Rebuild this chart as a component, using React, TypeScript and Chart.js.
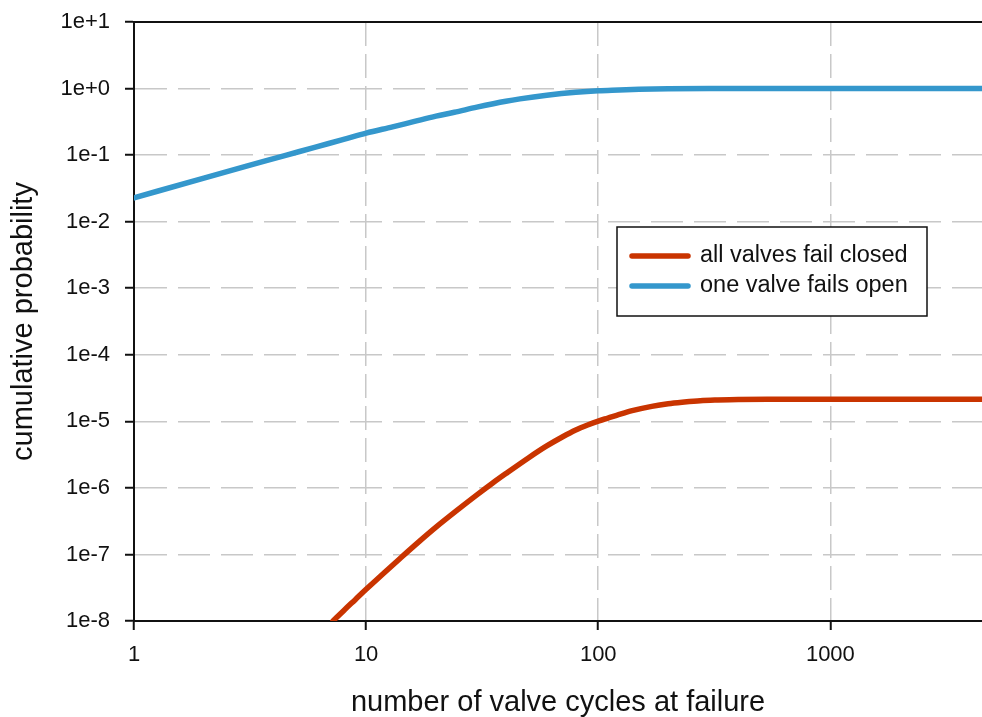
import React, { useEffect, useRef } from 'react';
import { Chart, registerables } from 'chart.js';

Chart.register(...registerables);

const FONT = '"Liberation Sans", Arial, Helvetica, sans-serif';

// Cumulative probability that one valve fails open, by number of cycles
const cyclesOpen = [1, 2, 3, 4.5, 6, 8, 10, 13, 16, 20, 24, 30, 40, 46, 60, 80, 100, 123, 150, 200, 300, 500, 1000, 4500];
const probOpen = [0.0228, 0.0452, 0.0671, 0.099, 0.131, 0.172, 0.214, 0.266, 0.318, 0.385, 0.44, 0.525, 0.645, 0.7, 0.794, 0.88, 0.927, 0.95, 0.973, 0.99, 0.998, 1.0, 1.0, 1.0];

// Cumulative probability that all valves fail closed, by number of cycles
const cyclesClosed = [7.2, 8, 9, 10, 12, 14, 17, 20, 25, 30, 35, 40, 50, 60, 70, 80, 90, 100, 110, 120, 140, 170, 200, 235, 275, 325, 400, 600, 1000, 4500];
const probClosed = [
  1.0e-8, 1.43e-8, 2.11e-8, 2.99e-8, 5.37e-8, 8.71e-8, 1.585e-7, 2.57e-7, 4.79e-7, 7.85e-7,
  1.175e-6, 1.64e-6, 2.82e-6, 4.27e-6, 5.82e-6, 7.41e-6, 8.81e-6, 1.01e-5, 1.12e-5, 1.23e-5,
  1.445e-5, 1.68e-5, 1.84e-5, 1.95e-5, 2.04e-5, 2.09e-5, 2.13e-5, 2.14e-5, 2.14e-5, 2.14e-5,
];

const seriesNames = ['all valves fail closed', 'one valve fails open'];
const seriesColors = ['#c93400', '#3497cc'];

const xTickValues = [1, 10, 100, 1000];
const xTickLabels = ['1', '10', '100', '1000'];
const yTickValues = [1e-8, 1e-7, 1e-6, 1e-5, 1e-4, 1e-3, 1e-2, 1e-1, 1, 10];
const yTickLabels = ['1e-8', '1e-7', '1e-6', '1e-5', '1e-4', '1e-3', '1e-2', '1e-1', '1e+0', '1e+1'];

const xRange = { min: 1, max: 4500 };
const yRange = { min: 1e-8, max: 10 };

// Solid frame line along the top of the plot area
const topBorderPlugin = {
  id: 'topBorder',
  afterDraw(chart: any) {
    const { ctx, chartArea } = chart;
    ctx.save();
    ctx.strokeStyle = '#111';
    ctx.lineWidth = 2;
    ctx.beginPath();
    ctx.moveTo(chartArea.left - 1, chartArea.top);
    ctx.lineTo(chartArea.right, chartArea.top);
    ctx.stroke();
    ctx.restore();
  },
};

// Boxed legend placed inside the plot area
const boxLegendPlugin = {
  id: 'boxLegend',
  afterDraw(chart: any, _args: any, opts: any) {
    const { ctx } = chart;
    const { x, y, width, height, rowGap, sampleStart, sampleLength, textStart, firstRow } = opts;
    ctx.save();
    ctx.fillStyle = '#fff';
    ctx.fillRect(x, y, width, height);
    ctx.strokeStyle = '#111';
    ctx.lineWidth = 1.5;
    ctx.strokeRect(x, y, width, height);
    ctx.font = `23.5px ${FONT}`;
    ctx.textBaseline = 'middle';
    ctx.textAlign = 'left';
    chart.data.datasets.forEach((ds: any, i: number) => {
      const rowY = y + firstRow + i * rowGap;
      ctx.strokeStyle = ds.borderColor;
      ctx.lineWidth = 5.5;
      ctx.lineCap = 'round';
      ctx.beginPath();
      ctx.moveTo(x + sampleStart, rowY);
      ctx.lineTo(x + sampleStart + sampleLength, rowY);
      ctx.stroke();
      ctx.fillStyle = '#111';
      ctx.fillText(ds.label, x + textStart, rowY);
    });
    ctx.restore();
  },
};

export default function App() {
  const canvasRef = useRef<HTMLCanvasElement | null>(null);

  useEffect(() => {
    const canvas = canvasRef.current;
    if (!canvas) return;

    const chart = new Chart(canvas, {
      type: 'line',
      data: {
        datasets: [
          {
            label: seriesNames[0],
            data: cyclesClosed.map((c, i) => ({ x: c, y: probClosed[i] })),
            borderColor: seriesColors[0],
            backgroundColor: seriesColors[0],
            borderWidth: 5.5,
            pointRadius: 0,
            cubicInterpolationMode: 'monotone',
            borderCapStyle: 'round',
            fill: false,
          },
          {
            label: seriesNames[1],
            data: cyclesOpen.map((c, i) => ({ x: c, y: probOpen[i] })),
            borderColor: seriesColors[1],
            backgroundColor: seriesColors[1],
            borderWidth: 5.5,
            pointRadius: 0,
            cubicInterpolationMode: 'monotone',
            borderCapStyle: 'round',
            fill: false,
          },
        ],
      },
      options: {
        animation: false,
        responsive: false,
        maintainAspectRatio: false,
        devicePixelRatio: 1,
        layout: { padding: { top: 22, right: 0, bottom: 0, left: 0 } },
        plugins: {
          legend: { display: false },
          tooltip: { enabled: false },
          boxLegend: {
            x: 617,
            y: 227,
            width: 310,
            height: 89,
            firstRow: 29,
            rowGap: 30,
            sampleStart: 15,
            sampleLength: 56,
            textStart: 83,
          },
        } as any,
        scales: {
          x: {
            type: 'logarithmic',
            min: xRange.min,
            max: xRange.max,
            afterBuildTicks: (axis: any) => {
              axis.ticks = xTickValues.map((v) => ({ value: v }));
            },
            afterFit: (axis: any) => {
              axis.height = 96;
              axis.paddingLeft = 0;
              axis.paddingRight = 0;
            },
            ticks: {
              autoSkip: false,
              maxRotation: 0,
              padding: 12,
              color: '#111',
              font: { family: FONT, size: 22 },
              callback: (value: any) => {
                const i = xTickValues.indexOf(Number(value));
                return i >= 0 ? xTickLabels[i] : '';
              },
            },
            grid: {
              color: '#c8c8c8',
              lineWidth: 1.5,
              tickColor: '#111',
              tickLength: 9,
              tickWidth: 2,
            },
            border: { display: true, color: '#111', width: 2, dash: [24, 8] },
            title: {
              display: true,
              text: 'number of valve cycles at failure',
              color: '#111',
              font: { family: FONT, size: 29, lineHeight: 1 },
              padding: { top: 0, bottom: 0 },
            },
          },
          y: {
            type: 'logarithmic',
            min: yRange.min,
            max: yRange.max,
            afterBuildTicks: (axis: any) => {
              axis.ticks = yTickValues.map((v) => ({ value: v }));
            },
            afterFit: (axis: any) => {
              axis.width = 134;
              axis.paddingTop = 0;
              axis.paddingBottom = 0;
            },
            ticks: {
              autoSkip: false,
              padding: 15,
              color: '#111',
              font: { family: FONT, size: 22 },
              callback: (value: any) => {
                const i = yTickValues.indexOf(Number(value));
                return i >= 0 ? yTickLabels[i] : '';
              },
            },
            grid: {
              color: '#c8c8c8',
              lineWidth: 1.5,
              tickColor: '#111',
              tickLength: 9,
              tickWidth: 2,
            },
            border: { display: true, color: '#111', width: 2, dash: [32, 11] },
            title: {
              display: true,
              text: 'cumulative probability',
              color: '#111',
              font: { family: FONT, size: 29, lineHeight: 1 },
              padding: { top: 9, bottom: 0 },
            },
          },
        },
      },
      plugins: [topBorderPlugin, boxLegendPlugin],
    } as any);

    return () => chart.destroy();
  }, []);

  return (
    <div style={{ position: 'absolute', left: 0, top: 0, width: 982, height: 717, background: '#fff' }}>
      <canvas ref={canvasRef} width={982} height={717} style={{ display: 'block', width: 982, height: 717 }} />
    </div>
  );
}
